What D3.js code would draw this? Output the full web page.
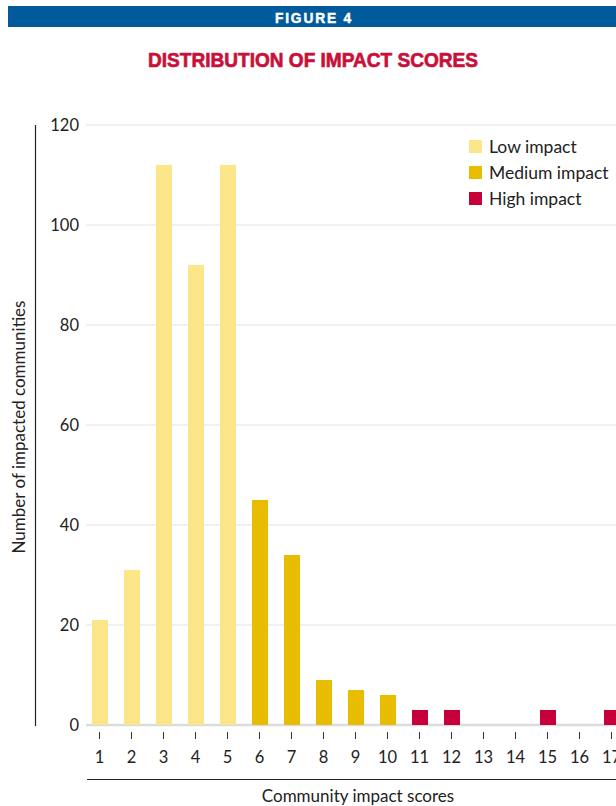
<!DOCTYPE html>
<html>
<head>
<meta charset="utf-8">
<script src="https://cdn.jsdelivr.net/npm/d3@7"></script>
<style>
  html, body { margin: 0; padding: 0; background: #fff; }
  svg { display: block; }
</style>
</head>
<body>
<svg id="chart" width="616" height="806"></svg>
<script>
// Impact score categories and the number of communities at each score
const scores = [1, 2, 3, 4, 5, 6, 7, 8, 9, 10, 11, 12, 13, 14, 15, 16, 17];
const counts = [21, 31, 112, 92, 112, 45, 34, 9, 7, 6, 3, 3, 0, 0, 3, 0, 3];
const levels = ["Low impact", "Low impact", "Low impact", "Low impact", "Low impact",
  "Medium impact", "Medium impact", "Medium impact", "Medium impact", "Medium impact",
  "High impact", "High impact", "High impact", "High impact", "High impact", "High impact", "High impact"];
const legendLabels = ["Low impact", "Medium impact", "High impact"];
const yTicks = [0, 20, 40, 60, 80, 100, 120];

const font = "'Lato', 'Open Sans', sans-serif";
const svg = d3.select("#chart");

const color = d3.scaleOrdinal()
  .domain(legendLabels)
  .range(["#fbe78a", "#e8bc00", "#c8003a"]);

const x = d3.scaleBand()
  .domain(scores)
  .range([84, 628])
  .paddingInner(0.5)
  .paddingOuter(0.25);

const y = d3.scaleLinear()
  .domain([0, 120])
  .range([725, 125]);

// Header band
svg.append("rect")
  .attr("x", 8).attr("y", 6).attr("width", 610).attr("height", 21)
  .attr("fill", "#005a9c");
svg.append("text")
  .attr("x", 314).attr("y", 22.5)
  .attr("text-anchor", "middle")
  .attr("fill", "#fff")
  .attr("stroke", "#fff").attr("stroke-width", 0.5)
  .attr("font-family", "'Liberation Sans Narrow', 'Liberation Sans', sans-serif")
  .attr("font-weight", "bold")
  .attr("font-size", 15)
  .attr("letter-spacing", "2px")
  .attr("textLength", 78)
  .attr("lengthAdjust", "spacingAndGlyphs")
  .text("FIGURE 4");

svg.append("text")
  .attr("x", 313).attr("y", 67)
  .attr("text-anchor", "middle")
  .attr("fill", "#c8103a")
  .attr("stroke", "#c8103a").attr("stroke-width", 0.7)
  .attr("font-family", "'Liberation Sans Narrow', 'Liberation Sans', sans-serif")
  .attr("font-weight", "bold")
  .attr("font-size", 21)
  .attr("textLength", 330)
  .attr("lengthAdjust", "spacingAndGlyphs")
  .text("DISTRIBUTION OF IMPACT SCORES");

// Grid lines
svg.append("g")
  .selectAll("line")
  .data(yTicks)
  .join("line")
  .attr("x1", 86).attr("x2", 616)
  .attr("y1", d => y(d)).attr("y2", d => y(d))
  .attr("stroke", d => d === 0 ? "#dcdcdc" : "#e2e2e2")
  .attr("stroke-width", d => d === 0 ? 2.5 : 1.2);

// Y tick labels
svg.append("g")
  .selectAll("text")
  .data(yTicks)
  .join("text")
  .attr("x", 79)
  .attr("y", d => y(d))
  .attr("dy", "0.35em")
  .attr("text-anchor", "end")
  .attr("fill", "#222")
  .attr("font-family", font)
  .attr("font-size", 16.5)
  .text(d => d);

// Left rule
svg.append("line")
  .attr("x1", 35.5).attr("x2", 35.5)
  .attr("y1", y(120)).attr("y2", y(0) + 1)
  .attr("stroke", "#222").attr("stroke-width", 1.2);

// Bars
svg.append("g")
  .selectAll("rect")
  .data(scores.map((s, i) => ({ s, v: counts[i], level: levels[i] })))
  .join("rect")
  .attr("x", d => x(d.s))
  .attr("width", x.bandwidth())
  .attr("y", d => y(d.v))
  .attr("height", d => y(0) - y(d.v))
  .attr("fill", d => color(d.level));

// X ticks and labels
const xg = svg.append("g");
xg.selectAll("line")
  .data(scores)
  .join("line")
  .attr("x1", d => x(d) + x.bandwidth() / 2 - 0.5)
  .attr("x2", d => x(d) + x.bandwidth() / 2 - 0.5)
  .attr("y1", 732).attr("y2", 739)
  .attr("stroke", "#333").attr("stroke-width", 1);
xg.selectAll("text")
  .data(scores)
  .join("text")
  .attr("x", d => x(d) + x.bandwidth() / 2 - 0.5)
  .attr("y", 763)
  .attr("text-anchor", "middle")
  .attr("fill", "#222")
  .attr("font-family", font)
  .attr("font-size", 16.5)
  .text(d => d);

// Bottom rule
svg.append("line")
  .attr("x1", 87).attr("x2", 616)
  .attr("y1", 779.5).attr("y2", 779.5)
  .attr("stroke", "#222").attr("stroke-width", 1.2);

// Axis titles
svg.append("text")
  .attr("x", 358).attr("y", 802)
  .attr("text-anchor", "middle")
  .attr("fill", "#222")
  .attr("font-family", font)
  .attr("font-size", 17)
  .text("Community impact scores");

svg.append("text")
  .attr("transform", "translate(25,427) rotate(-90)")
  .attr("text-anchor", "middle")
  .attr("fill", "#222")
  .attr("font-family", font)
  .attr("font-size", 17)
  .text("Number of impacted communities");

// Legend
const legend = svg.append("g")
  .selectAll("g")
  .data(legendLabels)
  .join("g")
  .attr("transform", (d, i) => `translate(469,${140 + i * 26})`);
legend.append("rect")
  .attr("width", 13).attr("height", 13)
  .attr("fill", d => color(d));
legend.append("text")
  .attr("x", 20).attr("y", 6.5)
  .attr("dy", "0.35em")
  .attr("fill", "#222")
  .attr("font-family", font)
  .attr("font-size", 17.5)
  .text(d => d);
</script>
</body>
</html>
